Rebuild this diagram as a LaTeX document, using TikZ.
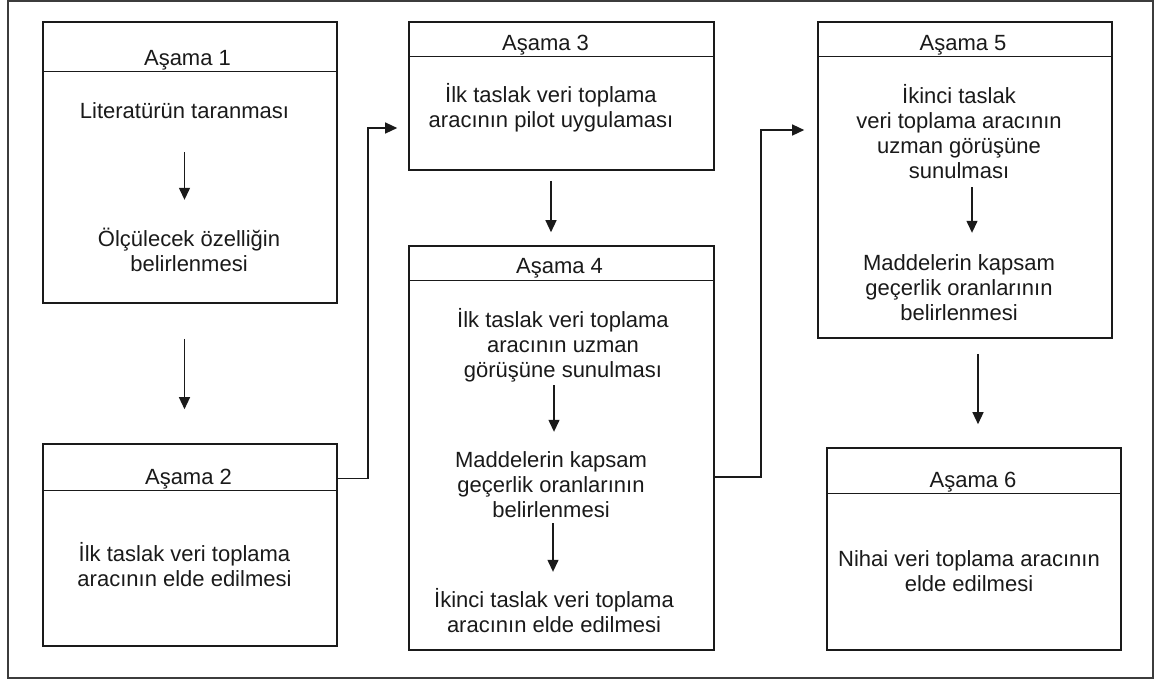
\documentclass[tikz,border=0pt]{standalone}
\usepackage{fontspec}
\setmainfont{Liberation Sans}
\usetikzlibrary{arrows.meta}
\definecolor{ink}{HTML}{1A1A1A}
\definecolor{framegray}{HTML}{3C3C3C}
\begin{document}
\begin{tikzpicture}[x=1pt,y=-1pt,
  every node/.style={font=\fontsize{22}{25}\selectfont, text=ink},
  stagebox/.style={draw=ink, line width=1.6pt, rectangle, inner sep=0pt, fill=white},
  stagetitle/.style={anchor=base, inner sep=0pt},
  bodytext/.style={align=center, inner sep=0pt},
  arr/.style={draw=ink, line width=1.3pt, -{Triangle[length=12pt,width=11pt]}},
  divider/.style={draw=ink, line width=1.4pt}
]
\useasboundingbox (0,0) rectangle (1161,681);
\draw[framegray, line width=1.6pt] (8,1) rectangle (1153,678);

% ---- stage boxes ----
\node[stagebox, minimum width=294pt, minimum height=281pt] (b1) at (190,162.5) {};
\node[stagebox, minimum width=294pt, minimum height=202pt] (b2) at (190,545) {};
\node[stagebox, minimum width=305pt, minimum height=148pt] (b3) at (561.5,96) {};
\node[stagebox, minimum width=305pt, minimum height=404pt] (b4) at (561.5,448) {};
\node[stagebox, minimum width=294pt, minimum height=316pt] (b5) at (965,180) {};
\node[stagebox, minimum width=294pt, minimum height=202pt] (b6) at (974,549) {};

% header dividers
\draw[divider] ([yshift=-50pt]b1.north west) -- ([yshift=-50pt]b1.north east);
\draw[divider] ([yshift=-47pt]b2.north west) -- ([yshift=-47pt]b2.north east);
\draw[divider] ([yshift=-35pt]b3.north west) -- ([yshift=-35pt]b3.north east);
\draw[divider] ([yshift=-35pt]b4.north west) -- ([yshift=-35pt]b4.north east);
\draw[divider] ([yshift=-35pt]b5.north west) -- ([yshift=-35pt]b5.north east);
\draw[divider] ([yshift=-46pt]b6.north west) -- ([yshift=-46pt]b6.north east);

% titles
\node[stagetitle] (t1) at (187.5,65) {Aşama 1};
\node[stagetitle] (t2) at (188.5,484) {Aşama 2};
\node[stagetitle] (t3) at (545.5,50) {Aşama 3};
\node[stagetitle] (t4) at (559.5,273) {Aşama 4};
\node[stagetitle] (t5) at (963,50) {Aşama 5};
\node[stagetitle] (t6) at (973,487) {Aşama 6};

% body texts
\node[bodytext, minimum height=30pt] (lit) at (184.5,111) {Literatürün taranması};
\node[bodytext, minimum height=56pt] (olc) at (189,249.5) {Ölçülecek özelliğin\\belirlenmesi};
\node[bodytext] (b2t) at (184.5,565) {İlk taslak veri toplama\\aracının elde edilmesi};
\node[bodytext] (b3t) at (551,108) {İlk taslak veri toplama\\aracının pilot uygulaması};
\node[bodytext, minimum height=78pt] (g4a) at (563,345) {İlk taslak veri toplama\\aracının uzman\\görüşüne sunulması};
\node[bodytext, minimum height=70pt] (g4b) at (551,484.5) {Maddelerin kapsam\\geçerlik oranlarının\\belirlenmesi};
\node[bodytext, minimum height=50pt] (g4c) at (554,611) {İkinci taslak veri toplama\\aracının elde edilmesi};
\node[bodytext, minimum height=100pt] (g5a) at (959,132) {İkinci taslak\\veri toplama aracının\\uzman görüşüne\\sunulması};
\node[bodytext, minimum height=70pt] (g5b) at (959,288) {Maddelerin kapsam\\geçerlik oranlarının\\belirlenmesi};
\node[bodytext] (b6t) at (969,571) {Nihai veri toplama aracının\\elde edilmesi};

% arrows inside the stages
\draw[arr, shorten <=26pt, shorten >=21.5pt] (lit.south) -- (lit.south |- olc.north);
\draw[arr, shorten <=1pt, shorten >=17.5pt] ([xshift=3pt]g4b.north |- g4a.south) -- ([xshift=3pt]g4b.north);
\draw[arr, shorten <=3.5pt, shorten >=14pt] ([xshift=2pt]g4b.south) -- ([xshift=2pt]g4b.south |- g4c.north);
\draw[arr, shorten <=5pt, shorten >=20pt] ([xshift=13pt]g5a.south) -- ([xshift=13pt]g5a.south |- g5b.north);

% arrows between the stages
\draw[arr, shorten <=35pt, shorten >=34pt] (b1.south -| lit) -- (b2.north -| lit);
\draw[arr, shorten <=10pt, shorten >=13pt] (b3.south -| b3t) -- (b4.north -| b3t);
\draw[arr, shorten <=15pt, shorten >=23pt] ([xshift=4pt]b6.north |- b5.south) -- ([xshift=4pt]b6.north);

% elbow connectors
\coordinate (e1) at (368,128);
\draw[arr, shorten >=11pt] (t2.center -| b2.east) -| (e1) -- (e1 -| b3.west);
\coordinate (e2a) at (761,477);
\coordinate (e2b) at (761,130);
\draw[arr, shorten >=13pt] (e2a -| b4.east) -- (e2a) -- (e2b) -- (e2b -| b5.west);
\end{tikzpicture}
\end{document}
